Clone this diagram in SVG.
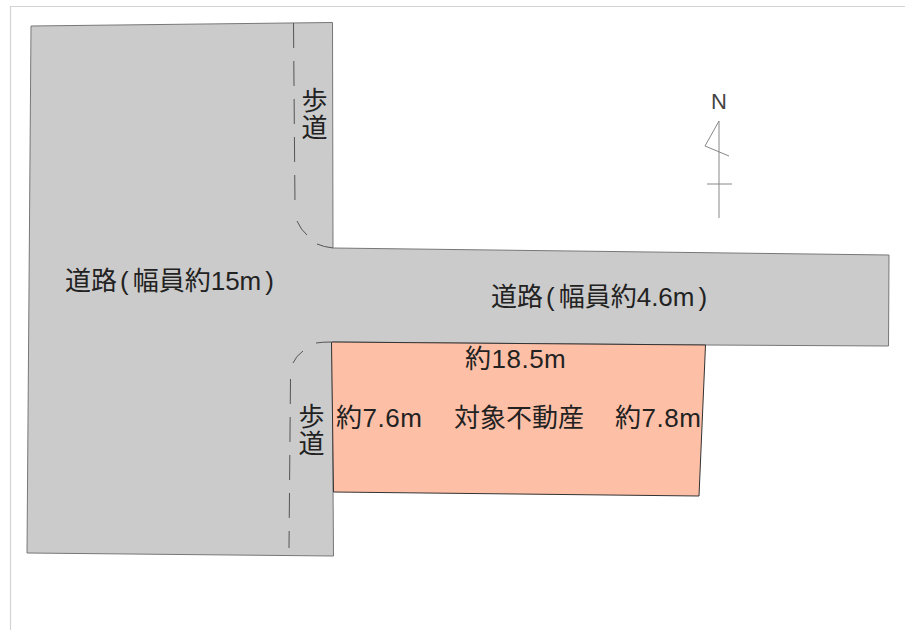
<svg xmlns="http://www.w3.org/2000/svg" width="905" height="630" viewBox="0 0 905 630">
<style>
text{font-family:"Liberation Sans","Noto Sans CJK JP",sans-serif;font-size:26px;fill:#222}
.v{writing-mode:vertical-rl;letter-spacing:1px}
.m{letter-spacing:.5px}
.edge{fill:none;stroke:#555;stroke-width:1}
.thin{fill:none;stroke:#888;stroke-width:1}
.dash{fill:none;stroke:#555;stroke-width:1;stroke-dasharray:25 13}
</style>
<rect width="905" height="630" fill="#fff"/>
<path d="M10.500 630V6.500H905" fill="none" stroke="#d4d4d4" stroke-width="1.200"/>
<g id="road">
<path d="M31 26L332.500 22.500L333 248L889 255L888.500 346L706 345L332 342L333.500 556L27 553Z" fill="#cbcbcb" stroke="#777" stroke-width="1"/>
</g>
<g id="property">
<path d="M331.500 342L705.500 345L699 496L333.500 492Z" fill="#fdbfa6" stroke="#333" stroke-width="1"/>
</g>
<g id="connectors">
<path class="dash" d="M293.500 23L295 207"/>
<path class="edge" d="M297 221Q301 230 307 235M317 244Q324 247 333 248"/>
<path class="edge" d="M316 343Q322 342 331 342M303 351Q296 356 293 363"/>
<path class="dash" d="M290.500 379L289 548"/>
</g>
<g id="north">
<path class="thin" d="M719 121V218M719 121L705 146L729 156M707 184H732"/>
<text x="719" y="109" text-anchor="middle" style="font-size:22px;fill:#444">N</text>
</g>
<g id="label-road-west"><text x="65" y="290">道路<tspan dx="3">(</tspan><tspan dx="4">幅員約15m</tspan><tspan dx="4">)</tspan></text></g>
<g id="label-road-south"><text x="491" y="306">道路<tspan dx="3">(</tspan><tspan dx="4">幅員約4.6m</tspan><tspan dx="4">)</tspan></text></g>
<g id="label-sidewalk-north"><text class="v" x="312" y="87">歩道</text></g>
<g id="label-sidewalk-south"><text class="v" x="309" y="403">歩道</text></g>
<g id="label-front"><text class="m" x="465" y="368">約18.5m</text></g>
<g id="label-left"><text class="m" x="336" y="427">約7.6m</text></g>
<g id="label-name"><text x="454" y="427">対象不動産</text></g>
<g id="label-right"><text class="m" x="615" y="427">約7.8m</text></g>
</svg>
